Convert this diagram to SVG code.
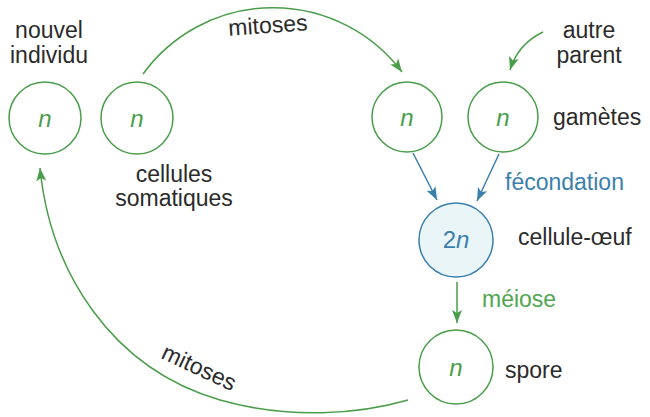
<svg xmlns="http://www.w3.org/2000/svg" width="650" height="417" viewBox="0 0 650 417">
<defs>
<marker id="ag" markerWidth="14" markerHeight="12" refX="13" refY="5" orient="auto" markerUnits="userSpaceOnUse" viewBox="0 0 14 10">
<path d="M0,0 L13,5 L0,10 L3,5 Z" fill="#4a9d4a"/>
</marker>
<marker id="ab" markerWidth="14" markerHeight="12" refX="13" refY="5" orient="auto" markerUnits="userSpaceOnUse" viewBox="0 0 14 10">
<path d="M0,0 L13,5 L0,10 L3,5 Z" fill="#3b80ad"/>
</marker>
<style>
.t{font-family:"Liberation Sans",Arial,sans-serif;font-size:23px;fill:#2b2b2b}
.c{fill:#fff;stroke:#4a9d4a;stroke-width:1.5}
.cb{fill:#eaf5f8;stroke:#3b80ad;stroke-width:1.5}
.n{font-family:"Liberation Sans",Arial,sans-serif;font-size:24px;font-style:italic;fill:#4a9d4a;text-anchor:middle}
.nb{fill:#3b80ad}
.g{fill:none;stroke:#4a9d4a;stroke-width:1.5}
.b{fill:none;stroke:#3b80ad;stroke-width:1.5}
</style>
</defs>
<rect width="650" height="417" fill="#fff"/>
<g id="connectors">
<path class="g" d="M143,74 A161,161 0 0 1 402,72" marker-end="url(#ag)"/>
<path class="g" d="M543,32 Q518,44 510,70" marker-end="url(#ag)"/>
<path class="b" d="M413,153 L437,200" marker-end="url(#ab)"/>
<path class="b" d="M499,154 L477,201" marker-end="url(#ab)"/>
<path class="g" d="M457,282 L457,323" marker-end="url(#ag)"/>
<path class="g" d="M408,400 C360,414 290,420 220,400 C110,368 50,270 40,168" marker-end="url(#ag)"/>
</g>
<g id="nouvel-individu">
<circle class="c" cx="45" cy="118" r="36"/>
<text class="n" x="45" y="127">n</text>
<text class="t" x="49" y="38" text-anchor="middle">nouvel</text>
<text class="t" x="49" y="63" text-anchor="middle">individu</text>
</g>
<g id="cellules-somatiques">
<circle class="c" cx="137" cy="118" r="36"/>
<text class="n" x="137" y="127">n</text>
<text class="t" x="174" y="182" text-anchor="middle">cellules</text>
<text class="t" x="174" y="206" text-anchor="middle">somatiques</text>
</g>
<g id="label-mitoses-top">
<text class="t" x="268" y="33" text-anchor="middle" transform="rotate(-4 268 28)">mitoses</text>
</g>
<g id="autre-parent">
<text class="t" x="589" y="38" text-anchor="middle">autre</text>
<text class="t" x="589" y="63" text-anchor="middle">parent</text>
</g>
<g id="gamete-1">
<circle class="c" cx="407" cy="117" r="35"/>
<text class="n" x="407" y="126">n</text>
</g>
<g id="gamete-2">
<circle class="c" cx="503" cy="117" r="35"/>
<text class="n" x="503" y="126">n</text>
<text class="t" x="553" y="125">gamètes</text>
</g>
<g id="label-fecondation">
<text class="t" x="505" y="190" style="fill:#3b80ad">fécondation</text>
</g>
<g id="cellule-oeuf">
<circle class="cb" cx="456" cy="240" r="37"/>
<text class="n nb" x="456" y="248"><tspan font-style="normal">2</tspan>n</text>
<text class="t" x="518" y="245">cellule-œuf</text>
</g>
<g id="label-meiose">
<text class="t" x="482" y="307" style="fill:#4fa64f">méiose</text>
</g>
<g id="spore">
<circle class="c" cx="456" cy="367" r="37"/>
<text class="n" x="456" y="376">n</text>
<text class="t" x="505" y="378">spore</text>
</g>
<g id="label-mitoses-bottom">
<text class="t" x="198" y="375" text-anchor="middle" transform="rotate(25 198 370)">mitoses</text>
</g>
</svg>
